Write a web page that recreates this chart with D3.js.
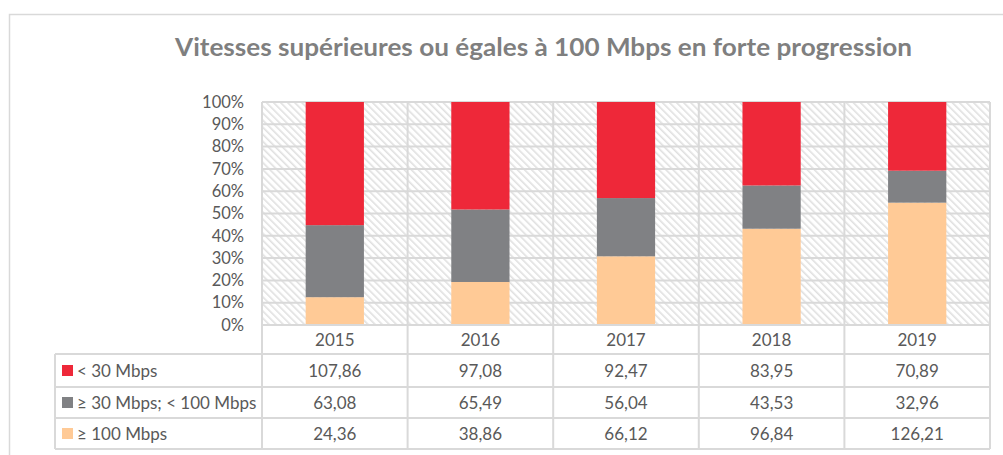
<!DOCTYPE html>
<html><head><meta charset="utf-8">
<script src="https://cdn.jsdelivr.net/npm/d3@7"></script>
<style>
html,body{margin:0;padding:0;background:#fff;}
svg{display:block;}
text{font-family:Lato, "Open Sans", sans-serif;}
</style></head>
<body>
<svg id="c" width="1003" height="455"></svg>
<script>
const title = "Vitesses supérieures ou égales à 100 Mbps en forte progression";
const years = ["2015","2016","2017","2018","2019"];
const seriesNames = ["< 30 Mbps","≥ 30 Mbps; < 100 Mbps","≥ 100 Mbps"];
const below30 = [107.86, 97.08, 92.47, 83.95, 70.89];
const from30to100 = [63.08, 65.49, 56.04, 43.53, 32.96];
const above100 = [24.36, 38.86, 66.12, 96.84, 126.21];
const yTicks = [0,0.1,0.2,0.3,0.4,0.5,0.6,0.7,0.8,0.9,1];
const colors = {"< 30 Mbps":"#EE2839","≥ 30 Mbps; < 100 Mbps":"#808184","≥ 100 Mbps":"#FFCA96"};

const seriesValues = {"< 30 Mbps":below30,"≥ 30 Mbps; < 100 Mbps":from30to100,"≥ 100 Mbps":above100};
const rows = years.map((y,i)=>{const o={year:y}; seriesNames.forEach(s=>o[s]=seriesValues[s][i]); return o;});

const svg = d3.select("#c");
const grid = "#D9D9D9", txt = "#595959";
const fmt = v => d3.format(".2f")(v).replace(".", ",");

// outer border
svg.append("rect").attr("x",9.5).attr("y",14.5).attr("width",1010).attr("height",460)
  .attr("fill","none").attr("stroke",grid).attr("stroke-width",1.5);

// hatch pattern
const defs = svg.append("defs");
const pat = defs.append("pattern").attr("id","hatch").attr("patternUnits","userSpaceOnUse")
  .attr("width",5).attr("height",5).attr("patternTransform","rotate(-45)");
pat.append("rect").attr("width",5).attr("height",5).attr("fill","#fff");
pat.append("rect").attr("x",0).attr("width",1.6).attr("height",5).attr("fill","#E0E0E0");

const L=262, R=990, T=102, B=325;
const xCol = d3.scaleBand().domain(years).range([L,R]);
const x = d3.scaleBand().domain(years).range([L,R]).paddingInner(0.6).paddingOuter(0.3);
const y = d3.scaleLinear().domain([0,1]).range([B,T]);

svg.append("rect").attr("x",L).attr("y",T).attr("width",R-L).attr("height",B-T).attr("fill","url(#hatch)");

// horizontal gridlines
svg.append("g").selectAll("line").data(yTicks).join("line")
  .attr("x1",L).attr("x2",R).attr("y1",d=>y(d)).attr("y2",d=>y(d))
  .attr("stroke",grid).attr("stroke-width",2);

// y axis labels
const yAxis = d3.axisLeft(y).tickValues(yTicks).tickFormat(d3.format(".0%")).tickSize(0).tickPadding(0);
const ga = svg.append("g").attr("transform",`translate(${L-18},0)`).call(yAxis);
ga.select(".domain").remove();
ga.selectAll("text").attr("fill",txt).style("font-size","16.5px").style("font-family","Lato, sans-serif");

// stacked bars
const stack = d3.stack().keys(["≥ 100 Mbps","≥ 30 Mbps; < 100 Mbps","< 30 Mbps"]).offset(d3.stackOffsetExpand);
const stacked = stack(rows);
svg.append("g").selectAll("g").data(stacked).join("g").attr("fill",d=>colors[d.key])
  .selectAll("rect").data(d=>d).join("rect")
  .attr("x",d=>x(d.data.year)).attr("width",x.bandwidth())
  .attr("y",d=>y(d[1])).attr("height",d=>y(d[0])-y(d[1]));

// data table
const headerTop = B, headerBot = 354;
const rowBounds = [354, 387, 418, 449];
const legL = 55;
const tg = svg.append("g");
const vx = years.map(yv=>xCol(yv)).concat([R]);
tg.selectAll("line.v").data(vx).join("line").attr("class","v")
  .attr("x1",d=>d).attr("x2",d=>d).attr("y1",T).attr("y2",449)
  .attr("stroke",grid).attr("stroke-width",2);
tg.append("line").attr("x1",legL).attr("x2",legL).attr("y1",headerBot).attr("y2",449).attr("stroke",grid).attr("stroke-width",2);
tg.append("line").attr("x1",L).attr("x2",R).attr("y1",headerTop).attr("y2",headerTop).attr("stroke",grid).attr("stroke-width",2);
tg.selectAll("line.h").data(rowBounds).join("line").attr("class","h")
  .attr("x1",legL).attr("x2",R).attr("y1",d=>d).attr("y2",d=>d).attr("stroke",grid).attr("stroke-width",2);

tg.selectAll("text.yr").data(years).join("text").attr("class","yr")
  .attr("x",d=>xCol(d)+xCol.bandwidth()/2).attr("y",(headerTop+headerBot)/2+6)
  .attr("text-anchor","middle").attr("fill",txt).style("font-size","17px").text(d=>d);

seriesNames.forEach((s,i)=>{
  const cy = (rowBounds[i]+rowBounds[i+1])/2;
  tg.append("rect").attr("x",62).attr("y",cy-5.5).attr("width",11).attr("height",11).attr("fill",colors[s]);
  tg.append("text").attr("x",77).attr("y",cy+6).attr("fill",txt).style("font-size","17px").text(s);
  tg.selectAll(null).data(years).join("text")
    .attr("x",d=>xCol(d)+xCol.bandwidth()/2).attr("y",cy+6).attr("text-anchor","middle")
    .attr("fill",txt).style("font-size","17px").text((d,j)=>fmt(seriesValues[s][j]));
});

svg.append("text").attr("x",543.5).attr("y",56).attr("text-anchor","middle")
  .attr("fill","#7F7F7F").style("font-size","25px").style("font-weight","bold")
  .attr("textLength",737).attr("lengthAdjust","spacingAndGlyphs").text(title);
</script>
</body></html>
